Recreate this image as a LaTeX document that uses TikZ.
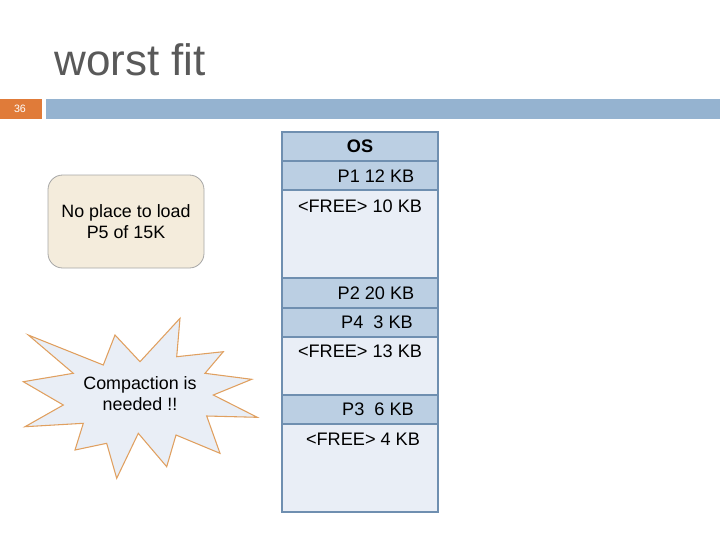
\documentclass[tikz,border=0pt]{standalone}
\usepackage{fontspec}
\setmainfont{Liberation Sans}
\definecolor{rowfill}{HTML}{BBCFE3}
\definecolor{freefill}{HTML}{E9EEF6}
\definecolor{rowline}{HTML}{6F8FB0}
\definecolor{barblue}{HTML}{95B3D0}
\definecolor{barorange}{HTML}{E07B39}
\definecolor{titlegray}{HTML}{595959}
\definecolor{cream}{HTML}{F4ECDC}
\definecolor{starline}{HTML}{E0A060}
\tikzset{
  memrow/.style={draw=rowline, line width=1.2pt, fill=rowfill},
  memfree/.style={draw=rowline, line width=1.2pt, fill=freefill},
  memtxt/.style={font=\fontsize{13.6}{15}\selectfont, inner sep=0pt},
  calltxt/.style={font=\fontsize{13.4}{15.8}\selectfont, align=center, inner sep=0pt}
}
\begin{document}
\begin{tikzpicture}[x=0.75pt,y=-0.75pt]
\useasboundingbox (0,0) rectangle (720,540);
% title
\node[font=\fontsize{33}{36}\selectfont, text=titlegray, anchor=west, inner sep=0pt] (title) at (54,60) {worst fit};
% header bar
\fill[barorange] (0,99) rectangle (42,119);
\fill[barblue] (46,99) rectangle (720,119);
\node[font=\fontsize{8}{9}\selectfont, text=white, inner sep=0pt] (pg) at (20,109) {36};
% memory
\draw[memrow] (282,132) rectangle (438,161);
\draw[memrow] (282,161) rectangle (438,190);
\draw[memfree] (282,190) rectangle (438,278);
\draw[memrow] (282,278) rectangle (438,308);
\draw[memrow] (282,308) rectangle (438,337);
\draw[memfree] (282,337) rectangle (438,395);
\draw[memrow] (282,395) rectangle (438,424);
\draw[memfree] (282,424) rectangle (438,512);
\node[memtxt, font=\fontsize{13.6}{15}\selectfont\bfseries] (os) at (360,146) {OS};
\node[memtxt] (p1) at (376,176) {P1 12 KB};
\node[memtxt] (f1) at (360,206) {<FREE> 10 KB};
\node[memtxt] (p2) at (376,293) {P2 20 KB};
\node[memtxt] (p4) at (377,322) {P4\ \ 3 KB};
\node[memtxt] (f2) at (360,351) {<FREE> 13 KB};
\node[memtxt] (p3) at (378,409) {P3\ \ 6 KB};
\node[memtxt] (f3) at (363,439) {<FREE> 4 KB};
% rounded callout
\draw[draw=black!35, fill=cream, rounded corners=11pt, line width=0.6pt] (48,175) rectangle (204,268);
\node[calltxt] (noplace) at (126,222) {No place to load\\P5 of 15K};
% star
\draw[draw=starline, fill=freefill, line width=0.8pt]
 (28.3,335) -- (103.3,365) -- (115,335) -- (140,361.7) -- (180,318.3) -- (176.7,356.7)
 -- (223.3,351.7) -- (205,373.3) -- (251.7,379.3) -- (213.3,395) -- (257.3,417.3)
 -- (206.7,416) -- (220,453.3) -- (176,435) -- (166.7,466.7) -- (138.3,433.3)
 -- (116.7,478.3) -- (106.7,443.3) -- (75,450) -- (83.3,423.3) -- (25,426.7)
 -- (63.3,405) -- (23.3,381.7) -- (73.3,373.3) -- cycle;
\node[calltxt] (compact) at (140,394) {Compaction is\\needed !!};
\end{tikzpicture}
\end{document}
